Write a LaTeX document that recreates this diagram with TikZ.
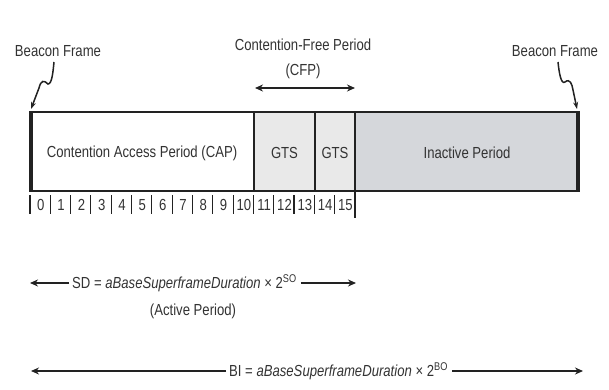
\documentclass[tikz,border=0pt]{standalone}
\usepackage{fontspec}
\setmainfont{Liberation Sans}[FakeStretch=0.82]
\usetikzlibrary{arrows.meta}
\definecolor{txt}{HTML}{333333}
\definecolor{gtsfill}{HTML}{E9E9E9}
\definecolor{inactfill}{HTML}{D5D7DB}
\definecolor{edge}{HTML}{222222}
\tikzset{
  lbl/.style={text=txt, font=\fontsize{16}{18}\selectfont, inner sep=0pt},
  num/.style={text=txt, font=\fontsize{16}{17}\selectfont, inner sep=0pt},
  cell/.style={draw=edge, line width=1.2pt, inner sep=0pt},
  arr/.style={draw=edge, line width=1.3pt, -{Stealth[length=8pt,width=7pt]}},
  squig/.style={draw=edge, line width=1.5pt, -{Stealth[length=7pt,width=5pt]}},
}
\begin{document}
\begin{tikzpicture}[x=1pt,y=-1pt]
\useasboundingbox (0,0) rectangle (609,389);
\fill[white] (0,0) rectangle (609,389);
% cells
\path[cell, fill=white] (30,112) rectangle (254,191);
\path[cell, fill=gtsfill] (254,112) rectangle (315,191);
\path[cell, fill=gtsfill] (315,112) rectangle (355,191);
\path[cell, fill=inactfill] (355,112) rectangle (579,191);
\draw[edge, line width=3.5pt] (31.5,111) -- (31.5,192);
\draw[edge, line width=4.5pt] (578,111) -- (578,192);
\draw[edge, line width=1.6pt] (355,191) -- (355,218);
\node[lbl] (cap) at (142,153) {Contention Access Period (CAP)};
\node[lbl] (gts1) at (284.5,153) {GTS};
\node[lbl] (gts2) at (335,153) {GTS};
\node[lbl] (inact) at (467,153) {Inactive Period};
% slot numbers
\foreach \i in {0,...,15}{
  \pgfmathsetmacro{\xl}{30+\i*20.31}
  \draw[edge, line width=1.1pt] (\xl,195) -- (\xl,214);
  \node[num] (s\i) at ({\xl+10.8},205) {\i};
}
% beacon frames
\node[lbl] (bfl) at (58,51) {Beacon Frame};
\node[lbl] (bfr) at (555,51) {Beacon Frame};
\coordinate (bl) at (31,109);
\coordinate (br) at (577,109);
\draw[squig] (54,62) .. controls (53,72) and (52,84) .. (48,84)
  .. controls (44,80) and (41,80) .. (39,88) -- (bl);
\draw[squig] (558,62) .. controls (559,72) and (561,85) .. (565,82)
  .. controls (570,78) and (572,84) .. (573,90) -- (br);
% CFP
\node[lbl] (cfp1) at (303,45) {Contention-Free Period};
\node[lbl] (cfp2) at (303,71) {(CFP)};
\coordinate (cfpl) at (255,88);
\coordinate (cfpr) at (355,88);
\draw[arr, {Stealth[length=8pt,width=7pt]}-{Stealth[length=8pt,width=7pt]}] (cfpl) -- (cfpr);
% SD
\node[lbl, anchor=west] (sd) at (72,283) {SD = \textit{aBaseSuperframeDuration} × 2\textsuperscript{SO}};
\node[lbl] (ap) at (193,311) {(Active Period)};
\coordinate (sdl) at (30,283);
\coordinate (sdr) at (356,283);
\draw[arr] (sd.west) ++(-3,0) -- (sdl);
\draw[arr] (sd.east) ++(4,0) -- (sdr);
% BI
\node[lbl, anchor=west] (bi) at (229,371) {BI = \textit{aBaseSuperframeDuration} × 2\textsuperscript{BO}};
\coordinate (bil) at (31,371);
\coordinate (bir) at (583,371);
\draw[arr] (bi.west) ++(-3,0) -- (bil);
\draw[arr] (bi.east) ++(4,0) -- (bir);
\end{tikzpicture}
\end{document}
